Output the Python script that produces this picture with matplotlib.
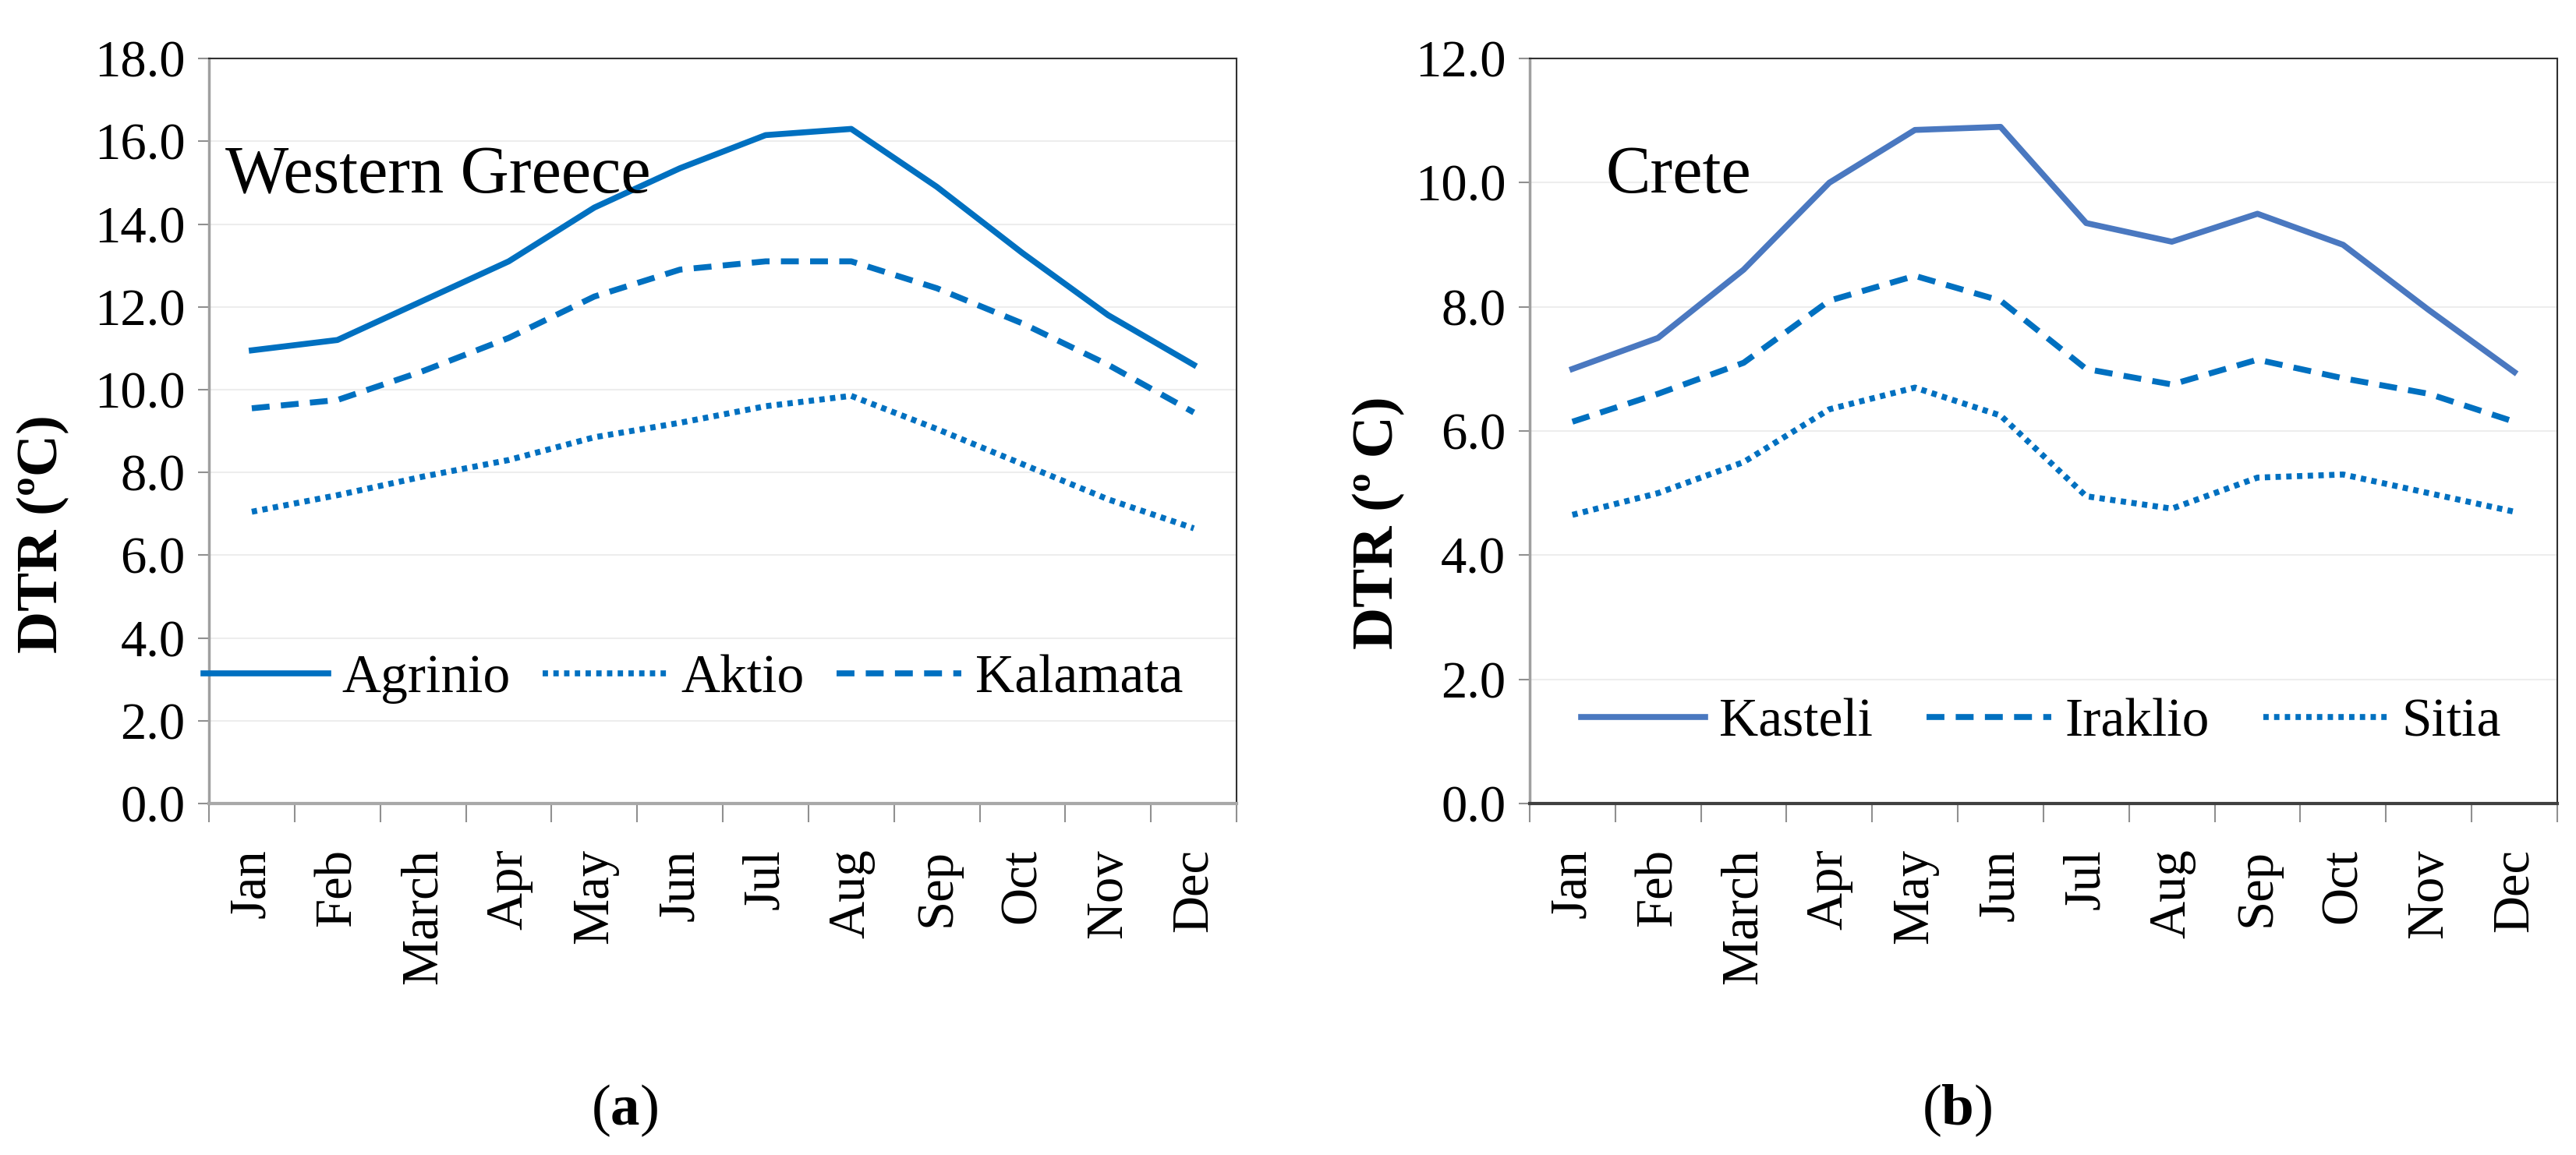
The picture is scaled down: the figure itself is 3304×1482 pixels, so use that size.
import numpy as np
import matplotlib.pyplot as plt
from matplotlib.ticker import FixedLocator, NullFormatter

plt.rcParams['font.family'] = ['Liberation Serif', 'DejaVu Serif']
plt.rcParams['mathtext.fontset'] = 'custom'
plt.rcParams['mathtext.rm'] = 'Liberation Serif'
plt.rcParams['mathtext.bf'] = 'Liberation Serif:bold'

months = ['Jan', 'Feb', 'March', 'Apr', 'May', 'Jun',
          'Jul', 'Aug', 'Sep', 'Oct', 'Nov', 'Dec']

# Western Greece
agrinio = [10.95, 11.2, 12.15, 13.1, 14.4, 15.35, 16.15, 16.3, 14.9, 13.3, 11.8, 10.6]
aktio = [7.05, 7.45, 7.9, 8.3, 8.85, 9.2, 9.6, 9.85, 9.05, 8.2, 7.35, 6.65]
kalamata = [9.55, 9.75, 10.45, 11.25, 12.25, 12.9, 13.1, 13.1, 12.45, 11.6, 10.6, 9.45]

# Crete
kasteli = [7.0, 7.5, 8.6, 10.0, 10.85, 10.9, 9.35, 9.05, 9.5, 9.0, 7.95, 6.95]
iraklio = [6.15, 6.6, 7.1, 8.1, 8.5, 8.1, 7.0, 6.75, 7.15, 6.85, 6.6, 6.15]
sitia = [4.65, 5.0, 5.5, 6.35, 6.7, 6.25, 4.95, 4.75, 5.25, 5.3, 5.0, 4.7]

BLUE = '#0070C0'
STEEL = '#4A78C0'
SOLID = '-'
DOTTED = (0, (0.9, 0.9))
DASHED = (0, (3.0, 1.9))
LW = 5.5


def style_axes(ax, ymax, bottom_color):
    x = np.arange(len(months))
    ax.set_xlim(-0.5, len(months) - 0.5)
    ax.set_ylim(0, ymax)
    ax.set_yticks(np.arange(0, ymax + 0.1, 2))
    ax.set_yticklabels([f'{v:.1f}' for v in np.arange(0, ymax + 0.1, 2)])
    ax.xaxis.set_major_locator(FixedLocator(np.arange(-0.5, len(months), 1)))
    ax.xaxis.set_major_formatter(NullFormatter())
    ax.xaxis.set_minor_locator(FixedLocator(x))
    ax.set_xticklabels(months, minor=True, rotation=90, va='top', ha='center')
    ax.tick_params(axis='x', which='major', length=17, width=1.5,
                   color='#909090', direction='out')
    ax.tick_params(axis='x', which='minor', length=0, pad=42, labelsize=48)
    ax.tick_params(axis='y', length=10, width=1.5, color='#909090',
                   pad=12, labelsize=48)
    ax.grid(axis='y', color='#EDEDED', linewidth=1.5)
    ax.set_axisbelow(True)
    ax.spines['left'].set_color('#A0A0A0')
    ax.spines['left'].set_linewidth(2.5)
    ax.spines['bottom'].set_color(bottom_color)
    ax.spines['bottom'].set_linewidth(3)
    for side in ['top', 'right']:
        ax.spines[side].set_color('#303030')
        ax.spines[side].set_linewidth(1.5)


fig = plt.figure(figsize=(33.05, 14.82), dpi=100)
ax1 = fig.add_axes([0.0811, 0.3043, 0.3988, 0.645])
ax2 = fig.add_axes([0.5936, 0.3043, 0.3988, 0.645])

x = np.arange(len(months))

# (a) Western Greece
ax1.plot(x, agrinio, color=BLUE, lw=LW, ls=SOLID, label='Agrinio')
ax1.plot(x, aktio, color=BLUE, lw=LW, ls=DOTTED, label='Aktio')
ax1.plot(x, kalamata, color=BLUE, lw=LW, ls=DASHED, label='Kalamata')
style_axes(ax1, 18, '#A8A8A8')
ax1.text(0.016, 0.82, 'Western Greece', transform=ax1.transAxes,
         fontsize=62, va='baseline', ha='left')
ax1.set_ylabel('DTR (ºC)', fontsize=54, fontweight='bold')
ax1.yaxis.set_label_coords(-0.136, 0.362)
ax1.legend(loc='center left', bbox_to_anchor=(-0.005, 0.167), ncol=3,
           frameon=False, fontsize=50, handlelength=2.3,
           handletextpad=0.25, columnspacing=0.6, borderpad=0,
           borderaxespad=0)

# (b) Crete
ax2.plot(x, kasteli, color=STEEL, lw=LW, ls=SOLID, label='Kasteli')
ax2.plot(x, iraklio, color=BLUE, lw=LW, ls=DASHED, label='Iraklio')
ax2.plot(x, sitia, color=BLUE, lw=LW, ls=DOTTED, label='Sitia')
style_axes(ax2, 12, '#404040')
ax2.text(0.074, 0.82, 'Crete', transform=ax2.transAxes,
         fontsize=62, va='baseline', ha='left')
ax2.set_ylabel('DTR (º C)', fontsize=54, fontweight='bold')
ax2.yaxis.set_label_coords(-0.121, 0.377)
ax2.legend(loc='center left', bbox_to_anchor=(0.05, 0.108), ncol=3,
           frameon=False, fontsize=50, handlelength=2.3,
           handletextpad=0.25, columnspacing=1.0, borderpad=0,
           borderaxespad=0)

fig.text(0.2424, 0.038, r'($\mathbf{a}$)', fontsize=54, ha='center', va='center')
fig.text(0.7594, 0.038, r'($\mathbf{b}$)', fontsize=54, ha='center', va='center')

fig.savefig('out.png', dpi=100, facecolor='white')
